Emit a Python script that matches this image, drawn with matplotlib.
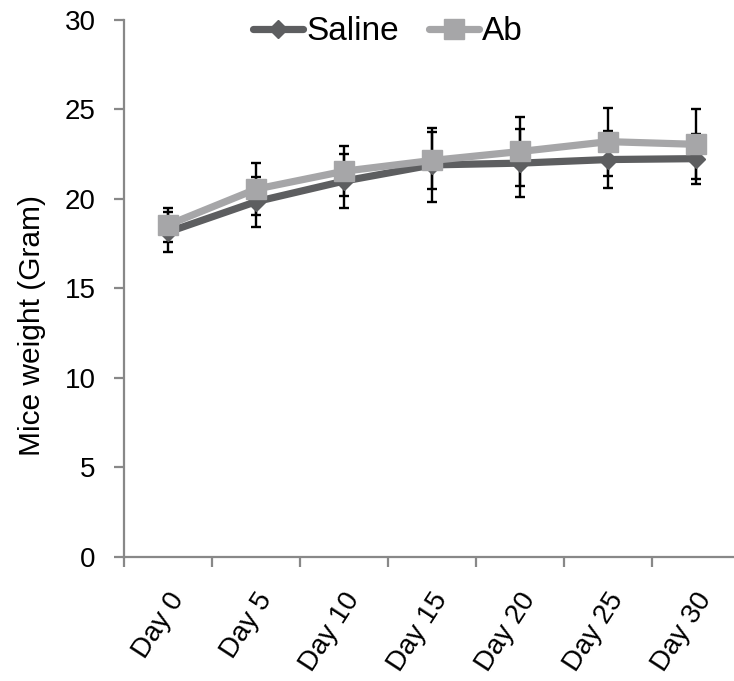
import matplotlib.pyplot as plt
import numpy as np
from matplotlib.transforms import ScaledTranslation

plt.rcParams['font.family'] = ['Liberation Sans', 'DejaVu Sans']

# données
jours = ['Day 0', 'Day 5', 'Day 10', 'Day 15', 'Day 20', 'Day 25', 'Day 30']
saline = [18.15, 19.85, 21.0, 21.9, 22.0, 22.2, 22.25]
saline_err = [1.1, 1.4, 1.5, 2.05, 1.9, 1.6, 1.4]
ab = [18.55, 20.55, 21.55, 22.15, 22.65, 23.2, 23.05]
ab_err = [0.95, 1.45, 1.4, 1.6, 1.95, 1.9, 1.95]

gris_fonce = '#5d5e60'
gris_clair = '#a6a6a8'
gris_axe = '#888888'

fig = plt.figure(figsize=(7.34, 6.81), dpi=100)
ax = fig.add_axes([124.3 / 734, 124.3 / 681, 616 / 734, 536.7 / 681])

x = np.arange(len(jours))

# barres d'erreur sous les courbes
ax.errorbar(x, saline, yerr=saline_err, fmt='none', ecolor='black',
            elinewidth=1.7, capsize=3.5, capthick=1.7, zorder=2)
ax.errorbar(x, ab, yerr=ab_err, fmt='none', ecolor='black',
            elinewidth=1.7, capsize=3.5, capthick=1.7, zorder=2)

ax.plot(x, saline, color=gris_fonce, lw=5.2, marker='D', markersize=9,
        solid_capstyle='round', label='Saline', zorder=3)
ax.plot(x, ab, color=gris_clair, lw=5.2, marker='s', markersize=14,
        solid_capstyle='round', label='Ab', zorder=4)

ax.set_xlim(-0.5, 6.5)
ax.set_ylim(0, 30)
ax.set_yticks([0, 5, 10, 15, 20, 25, 30])

# graduations majeures entre les catégories, libellés au centre
ax.set_xticks(np.arange(-0.5, 7, 1))
ax.set_xticklabels([])
ax.set_xticks(x, minor=True)
ax.set_xticklabels(jours, minor=True, rotation=57, ha='right', va='center',
                   rotation_mode='anchor', fontsize=20)
ax.tick_params(axis='x', which='minor', length=0, pad=28)
for lab in ax.get_xticklabels(minor=True):
    lab.set_transform(lab.get_transform() + ScaledTranslation(0.1, 0, fig.dpi_scale_trans))

ax.tick_params(axis='both', which='major', direction='out', length=7.5,
               width=1.6, color=gris_axe, labelsize=20)
ax.tick_params(axis='y', pad=13)

for s in ['top', 'right']:
    ax.spines[s].set_visible(False)
for s in ['left', 'bottom']:
    ax.spines[s].set_color(gris_axe)
    ax.spines[s].set_linewidth(1.6)

ax.set_ylabel('Mice weight (Gram)', fontsize=21.5)
ax.yaxis.set_label_coords(-0.127, 0.43)

fig.legend(loc='center', bbox_to_anchor=(388 / 734, 1 - 32 / 681), ncol=2,
           frameon=False, fontsize=24, handlelength=1.5, handletextpad=0.1,
           columnspacing=0.9, borderaxespad=0)

fig.savefig('out.png', dpi=100)
